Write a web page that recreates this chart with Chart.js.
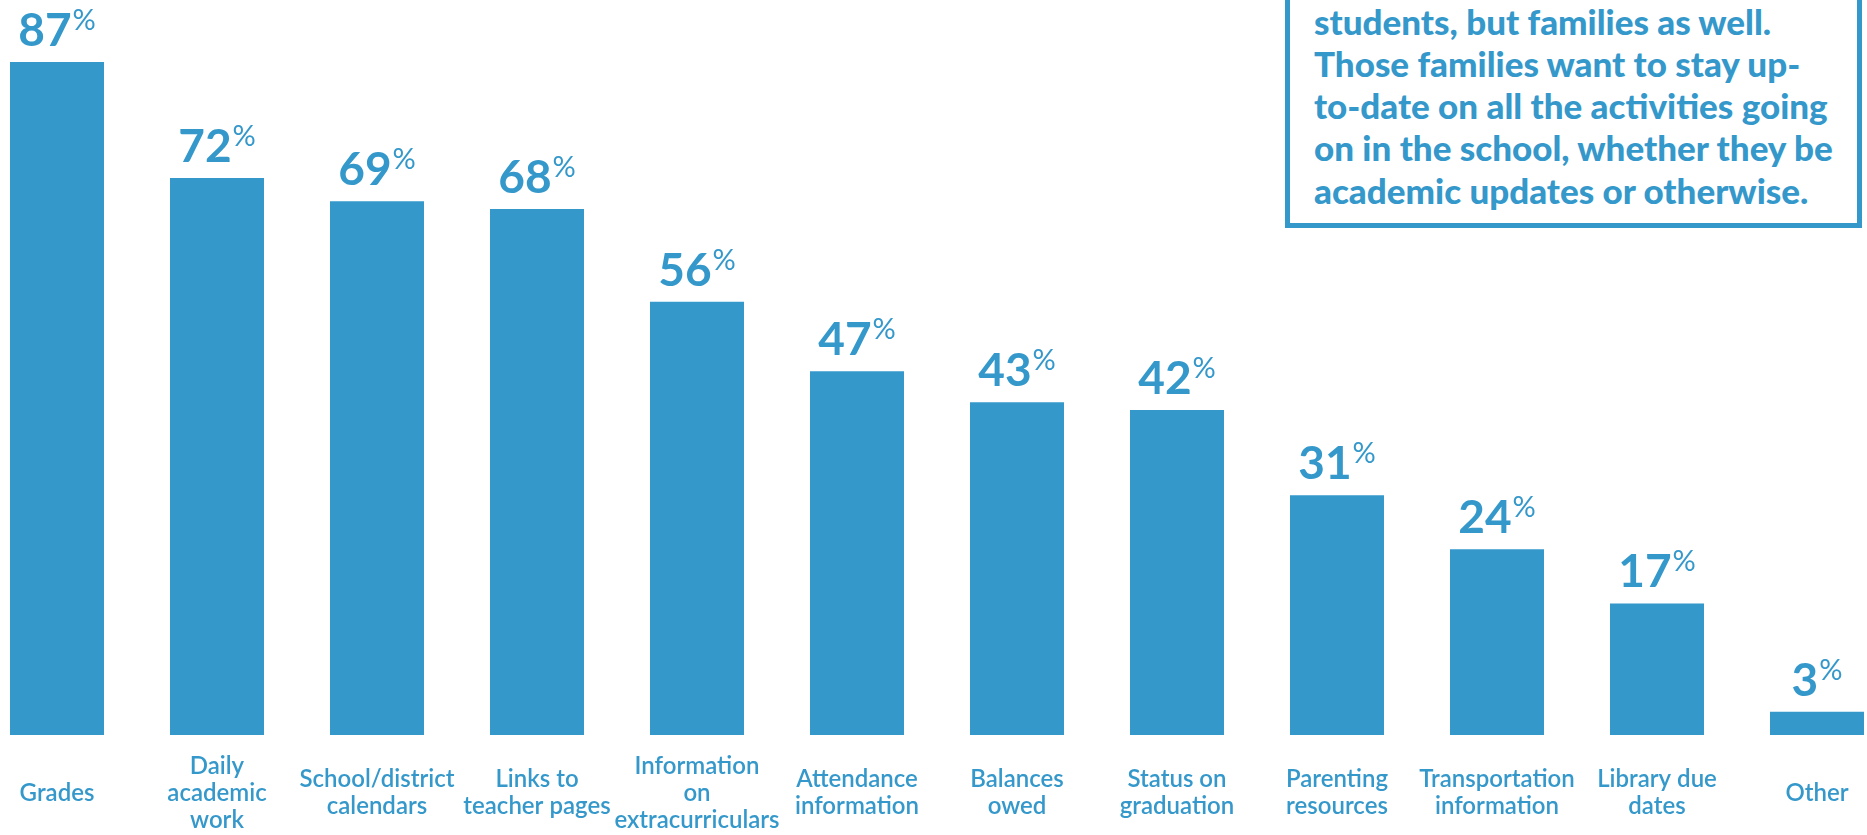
<!DOCTYPE html>
<html>
<head>
<meta charset="utf-8">
<script src="https://cdn.jsdelivr.net/npm/chart.js@4/dist/chart.umd.min.js"></script>
<style>
  html, body { margin: 0; padding: 0; width: 1867px; height: 835px; overflow: hidden; background: #fff; }
  #wrap { position: absolute; left: -23px; top: 0; width: 1920px; height: 835px; }
  #note {
    position: absolute; left: 1285px; bottom: 607px; width: 577px; box-sizing: border-box;
    border: 5px solid #3598CB; background: #fff;
    padding: 40px 10px 12px 24px;
    font-family: Lato, sans-serif; font-weight: 900; font-size: 35px; line-height: 42.3px;
    color: #3598CB; white-space: nowrap;
  }
</style>
</head>
<body>
<div id="wrap"><canvas id="c" width="1920" height="835"></canvas></div>
<div id="note">students, but families as well.<br>Those families want to stay up-<br>to-date on all the activities going<br>on in the school, whether they be<br>academic updates or otherwise.</div>
<script>
const categories = [
  ["Grades"],
  ["Daily", "academic", "work"],
  ["School/district", "calendars"],
  ["Links to", "teacher pages"],
  ["Information", "on", "extracurriculars"],
  ["Attendance", "information"],
  ["Balances", "owed"],
  ["Status on", "graduation"],
  ["Parenting", "resources"],
  ["Transportation", "information"],
  ["Library due", "dates"],
  ["Other"]
];
const percentages = [87, 72, 69, 68, 56, 47, 43, 42, 31, 24, 17, 3];

const BLUE = '#3598CB';

const valueLabels = {
  id: 'valueLabels',
  afterDatasetsDraw(chart) {
    const ctx = chart.ctx;
    const meta = chart.getDatasetMeta(0);
    const data = chart.data.datasets[0].data;
    ctx.save();
    ctx.fillStyle = BLUE;
    ctx.textBaseline = 'alphabetic';
    ctx.textAlign = 'left';
    meta.data.forEach((bar, i) => {
      const num = String(data[i]);
      const bigFont = '700 46px Lato, sans-serif';
      const smallFont = '400 29px Lato, sans-serif';
      ctx.font = bigFont;
      const wNum = ctx.measureText(num).width;
      ctx.font = smallFont;
      const wPct = ctx.measureText('%').width;
      const gap = 1;
      const total = wNum + gap + wPct;
      const x0 = bar.x - total / 2;
      const base = bar.y - 16;
      ctx.font = bigFont;
      ctx.fillText(num, x0, base);
      ctx.font = smallFont;
      ctx.fillText('%', x0 + wNum + gap, base - 16);
    });
    ctx.restore();
  }
};

new Chart(document.getElementById('c'), {
  type: 'bar',
  data: {
    labels: categories,
    datasets: [{
      data: percentages,
      backgroundColor: BLUE,
      borderWidth: 0,
      barPercentage: 0.5875,
      categoryPercentage: 1.0
    }]
  },
  options: {
    responsive: false,
    animation: false,
    layout: { padding: 0 },
    plugins: { legend: { display: false }, tooltip: { enabled: false } },
    scales: {
      x: {
        grid: { display: false, drawTicks: false },
        border: { display: false },
        afterFit(scale) { scale.height = 100; },
        ticks: {
          color: BLUE,
          font: { family: 'Lato, sans-serif', size: 24, weight: '600', lineHeight: '27px' },
          padding: 31,
          autoSkip: false,
          maxRotation: 0,
          minRotation: 0,
          crossAlign: 'center'
        }
      },
      y: {
        display: false,
        min: 0,
        max: 95
      }
    }
  },
  plugins: [valueLabels]
});
</script>
</body>
</html>
